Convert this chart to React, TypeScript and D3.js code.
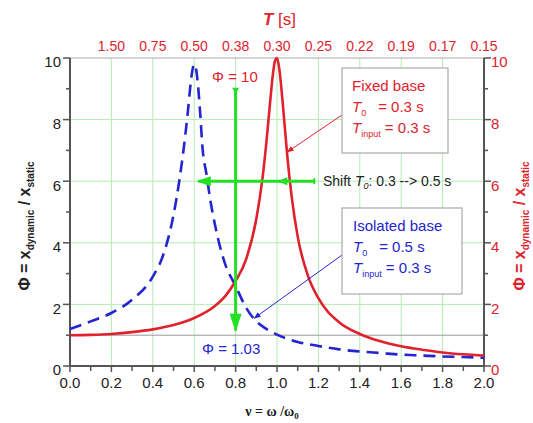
import React from "react";
import * as d3 from "d3";

const W = 533;
const H = 423;

// frequency ratio nu = omega/omega0
const redNu = [0, 0.1, 0.2, 0.3, 0.4, 0.5, 0.6, 0.7, 0.75, 0.8, 0.85, 0.9, 0.93, 0.95, 0.96, 0.97, 0.98, 0.99, 1.0, 1.01, 1.02, 1.03, 1.05, 1.07, 1.1, 1.15, 1.2, 1.3, 1.4, 1.5, 1.6, 1.7, 1.8, 1.9, 2.0];
const redPhi = [1.0, 1.01, 1.04, 1.1, 1.19, 1.33, 1.56, 1.95, 2.27, 2.76, 3.45, 4.77, 6.1, 7.35, 8.07, 8.8, 9.46, 9.9, 10.0, 9.7, 9.1, 8.36, 6.8, 5.55, 4.2, 2.92, 2.2, 1.42, 1.04, 0.8, 0.64, 0.53, 0.44, 0.38, 0.34];

const blueNu = [0, 0.1, 0.2, 0.3, 0.4, 0.45, 0.5, 0.53, 0.55, 0.57, 0.58, 0.59, 0.6, 0.61, 0.62, 0.63, 0.64, 0.66, 0.68, 0.7, 0.72, 0.75, 0.8, 0.85, 0.9, 0.95, 1.0, 1.1, 1.2, 1.3, 1.4, 1.5, 1.6, 1.7, 1.8, 1.9, 2.0];
const bluePhi = [1.2, 1.45, 1.72, 2.15, 2.9, 3.6, 4.9, 6.1, 7.1, 8.3, 9.0, 9.55, 9.8, 9.6, 9.0, 8.1, 7.1, 6.2, 5.3, 4.6, 4.0, 3.3, 2.6, 1.9, 1.45, 1.2, 1.02, 0.78, 0.65, 0.54, 0.47, 0.42, 0.37, 0.34, 0.31, 0.29, 0.27];

const xTickVals = [0, 0.2, 0.4, 0.6, 0.8, 1.0, 1.2, 1.4, 1.6, 1.8, 2.0];
const xMinorVals = [0.1, 0.3, 0.5, 0.7, 0.9, 1.1, 1.3, 1.5, 1.7, 1.9];
const yTickVals = [0, 2, 4, 6, 8, 10];
const yMinorVals = [1, 3, 5, 7, 9];
const gridX = [0.2, 0.4, 0.6, 0.8, 1.0, 1.2, 1.4, 1.6, 1.8];
const gridY = [2, 4, 6, 8];
const topTickNu = [0.2, 0.4, 0.6, 0.8, 1.0, 1.2, 1.4, 1.6, 1.8, 2.0];
const topTickLabels = ["1.50", "0.75", "0.50", "0.38", "0.30", "0.25", "0.22", "0.19", "0.17", "0.15"];

const RED = "#e0222c";
const BLUE = "#2424d0";
const GREEN = "#22e022";
const GRID = "#b4ecb4";
const AXIS = "#555";
const SANS = "'Liberation Sans', Arial, sans-serif";

export default function App() {
  const x = d3.scaleLinear().domain([0, 2]).range([70, 484]);
  const y = d3.scaleLinear().domain([0, 10]).range([366, 58]);

  const line = d3
    .line<[number, number]>()
    .x((d) => x(d[0]))
    .y((d) => y(d[1]))
    .curve(d3.curveMonotoneX);

  const redPath = line(redNu.map((n, i) => [n, redPhi[i]]) as [number, number][]) || "";
  const bluePath = line(blueNu.map((n, i) => [n, bluePhi[i]]) as [number, number][]) || "";

  const x0 = x(0), x1 = x(2), y0 = y(0), y1 = y(10);

  return (
    <svg width={W} height={H} style={{ position: "absolute", left: 0, top: 0, background: "#fff" }} fontFamily={SANS}>
      <defs>
        <marker id="rA" viewBox="0 0 10 10" refX="9" refY="5" markerWidth="7" markerHeight="7" orient="auto">
          <path d="M0,1 L10,5 L0,9 Z" fill={RED} />
        </marker>
        <marker id="bA" viewBox="0 0 10 10" refX="9" refY="5" markerWidth="7" markerHeight="7" orient="auto">
          <path d="M0,1 L10,5 L0,9 Z" fill={BLUE} />
        </marker>
      </defs>

      {/* grid */}
      {gridX.map((v) => (
        <line key={"gx" + v} x1={x(v)} x2={x(v)} y1={y0} y2={y1} stroke={GRID} strokeWidth={1} />
      ))}
      {gridY.map((v) => (
        <line key={"gy" + v} x1={x0} x2={x1} y1={y(v)} y2={y(v)} stroke={GRID} strokeWidth={1} />
      ))}
      <line x1={x0} x2={x1} y1={y(1)} y2={y(1)} stroke="#999" strokeWidth={1} />
      <line x1={x0} x2={x1} y1={y1} y2={y1} stroke="#aaa" strokeWidth={1} />

      {/* axes */}
      <line x1={x0} x2={x0} y1={y0 + 1} y2={y1} stroke={AXIS} strokeWidth={2} />
      <line x1={x1} x2={x1} y1={y0 + 1} y2={y1} stroke={AXIS} strokeWidth={2} />
      <line x1={x0} x2={x1} y1={y0} y2={y0} stroke={AXIS} strokeWidth={2} />

      {yTickVals.map((v) => (
        <g key={"yt" + v}>
          <line x1={x0 - 7} x2={x0} y1={y(v)} y2={y(v)} stroke={AXIS} strokeWidth={1.5} />
          <line x1={x1} x2={x1 + 7} y1={y(v)} y2={y(v)} stroke={AXIS} strokeWidth={1.5} />
          <text x={x0 - 9} y={y(v) + 4} dy="0.36em" textAnchor="end" fontSize={15} fill="#222">{v}</text>
          <text x={x1 + 7} y={y(v) + 4} dy="0.36em" textAnchor="start" fontSize={15} fill={RED}>{v}</text>
        </g>
      ))}
      {yMinorVals.map((v) => (
        <g key={"ym" + v}>
          <line x1={x0 - 4} x2={x0} y1={y(v)} y2={y(v)} stroke={AXIS} strokeWidth={1.5} />
          <line x1={x1} x2={x1 + 4} y1={y(v)} y2={y(v)} stroke={AXIS} strokeWidth={1.5} />
        </g>
      ))}
      {xTickVals.map((v) => (
        <g key={"xt" + v}>
          <line x1={x(v)} x2={x(v)} y1={y0} y2={y0 + 6} stroke={AXIS} strokeWidth={1.5} />
          <text x={x(v)} y={y0 + 22} textAnchor="middle" fontSize={15} fill="#222">{v.toFixed(1)}</text>
        </g>
      ))}
      {xMinorVals.map((v) => (
        <line key={"xm" + v} x1={x(v)} x2={x(v)} y1={y0} y2={y0 + 5} stroke={AXIS} strokeWidth={1.5} />
      ))}
      {topTickNu.map((v, i) => (
        <text key={"tt" + v} x={x(v)} y={51} textAnchor="middle" fontSize={14} fill={RED}>{topTickLabels[i]}</text>
      ))}
      <text x={263} y={25} fontSize={17} fill={RED}>
        <tspan fontWeight="bold" fontStyle="italic">T</tspan> [s]
      </text>

      {/* axis titles */}
      <text transform="translate(30,226) rotate(-90)" textAnchor="middle" fontSize={16} fontWeight="bold" fill="#222">
        Φ = x<tspan fontSize={10} dy={4}>dynamic</tspan><tspan dy={-4}> / x</tspan><tspan fontSize={10} dy={4}>static</tspan>
      </text>
      <text transform="translate(525,226) rotate(-90)" textAnchor="middle" fontSize={16} fontWeight="bold" fill={RED}>
        Φ = x<tspan fontSize={10} dy={4}>dynamic</tspan><tspan dy={-4}> / x</tspan><tspan fontSize={10} dy={4}>static</tspan>
      </text>
      <text x={272} y={416} textAnchor="middle" fontSize={14} fontWeight="bold" fontFamily="'Liberation Serif', 'Times New Roman', serif" fill="#222">
        ν = ω /ω<tspan fontSize={9} dy={3}>0</tspan>
      </text>

      {/* curves */}
      <path d={bluePath} fill="none" stroke={BLUE} strokeWidth={2.6} strokeDasharray="12,7" />
      <path d={redPath} fill="none" stroke={RED} strokeWidth={2.6} />

      {/* green arrows */}
      <line x1={x(0.8)} x2={x(0.8)} y1={y(9)} y2={y(1.15)} stroke={GREEN} strokeWidth={3} />
      <path d={`M${x(0.8) - 6},${y(1.7)} L${x(0.8) + 6},${y(1.7)} L${x(0.8)},${y(1.1)} Z`} fill={GREEN} />
      <path d={`M${x(0.8) - 3.5},${y(9) - 1} L${x(0.8) + 3.5},${y(9) - 1} L${x(0.8)},${y(9) + 5} Z`} fill={GREEN} />
      <line x1={x(1.18)} x2={x(0.62)} y1={y(6)} y2={y(6)} stroke={GREEN} strokeWidth={3} />
      <path d={`M${x(0.61)},${y(6)} L${x(0.68)},${y(6) - 5} L${x(0.68)},${y(6) + 5} Z`} fill={GREEN} />
      <path d={`M${x(1.0)},${y(6)} L${x(1.05)},${y(6) - 4} L${x(1.05)},${y(6) + 4} Z`} fill={GREEN} />
      <line x1={x(1.18)} x2={x(1.18)} y1={y(6) - 3} y2={y(6) + 3} stroke={GREEN} strokeWidth={2} />

      {/* annotation texts */}
      <text x={212} y={82} fontSize={15} fill={RED}>Φ = 10</text>
      <text x={202} y={354} fontSize={15} fill={BLUE}>Φ = 1.03</text>
      <text x={323} y={186} fontSize={14} fill="#222">
        Shift <tspan fontStyle="italic">T</tspan><tspan fontStyle="italic" fontSize={9} dy={3}>0</tspan><tspan dy={-3}>: 0.3 --&gt; 0.5 s</tspan>
      </text>

      {/* fixed base box */}
      <line x1={342} y1={115} x2={x(1.05)} y2={y(6.95)} stroke={RED} strokeWidth={1} markerEnd="url(#rA)" />
      <rect x={342} y={68} width={106} height={85} fill="#fff" stroke="#aaa" strokeWidth={1.2} />
      <text x={352} y={91} fontSize={15} fill={RED}>Fixed base</text>
      <text x={352} y={112} fontSize={15} fill={RED}>
        <tspan fontStyle="italic">T</tspan><tspan fontSize={9} dy={4}>0</tspan><tspan dy={-4} dx={12}>= 0.3 s</tspan>
      </text>
      <text x={352} y={133} fontSize={15} fill={RED}>
        <tspan fontStyle="italic">T</tspan><tspan fontSize={9} dy={4}>input</tspan><tspan dy={-4}> = 0.3 s</tspan>
      </text>

      {/* isolated base box */}
      <line x1={342} y1={255} x2={x(0.89)} y2={y(1.55)} stroke={BLUE} strokeWidth={1} markerEnd="url(#bA)" />
      <rect x={342} y={208} width={120} height={86} fill="#fff" stroke="#aaa" strokeWidth={1.2} />
      <text x={353} y={231} fontSize={15} fill={BLUE}>Isolated base</text>
      <text x={353} y={252} fontSize={15} fill={BLUE}>
        <tspan fontStyle="italic">T</tspan><tspan fontSize={9} dy={4}>0</tspan><tspan dy={-4} dx={12}>= 0.5 s</tspan>
      </text>
      <text x={353} y={273} fontSize={15} fill={BLUE}>
        <tspan fontStyle="italic">T</tspan><tspan fontSize={9} dy={4}>input</tspan><tspan dy={-4}> = 0.3 s</tspan>
      </text>
    </svg>
  );
}
